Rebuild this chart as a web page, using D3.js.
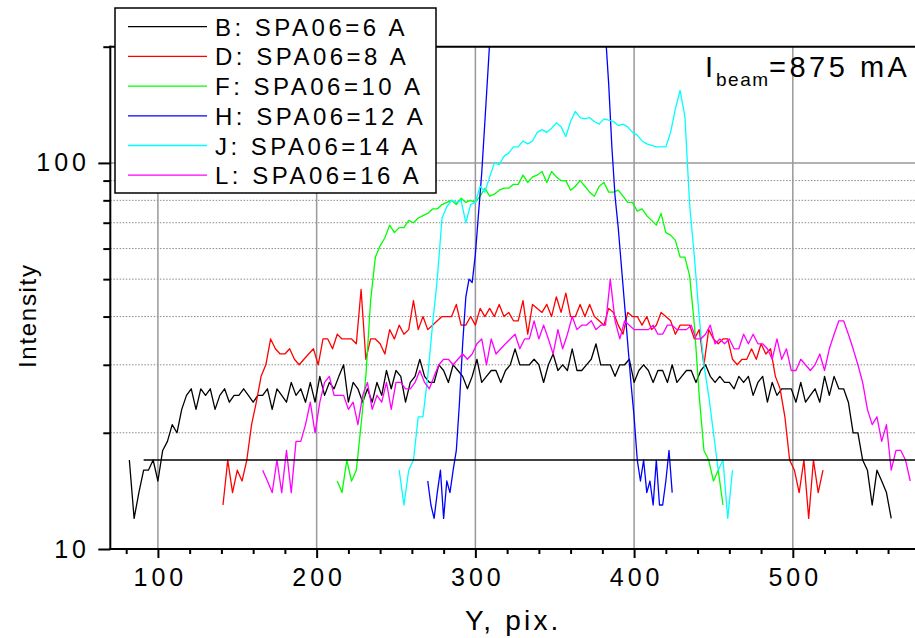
<!DOCTYPE html>
<html><head><meta charset="utf-8">
<script src="https://cdn.jsdelivr.net/npm/d3@7"></script>
<style>
html,body{margin:0;padding:0;background:#fff;}
svg{display:block;}
text{font-family:Arial,"Liberation Sans",sans-serif;fill:#000;}
</style></head><body>
<svg id="chart" width="915" height="638"></svg>
<script>
// ---------- data ----------
const seriesNames  = ["B: SPA06=6 A","D: SPA06=8 A","F: SPA06=10 A","H: SPA06=12 A","J: SPA06=14 A","L: SPA06=16 A"];
const seriesColors = ["#000000","#ff0000","#00ff00","#0000ff","#00ffff","#ff00ff"];
const seriesStart  = [82,141,213,270,252,166];   // first Y, pix. of each profile
const seriesStep   = [3,3,3,2,3,3];              // sampling step in Y, pix.

const valuesB = [17,12,14,16,16,17,15,18,19,21,20,23,25,26,23,26,25,26,23,25,26,24,25,25,26,25,24,25,
  25,26,23,26,25,24,27,25,26,24,27,24,28,25,27,26,28,30,24,27,26,24,26,24,27,25,29,
  26,29,28,24,27,28,31,28,27,27,30,29,27,30,29,28,26,28,31,27,28,29,29,27,29,30,33,30,30,30,
  31,30,27,30,32,29,30,29,33,29,29,30,31,34,30,30,30,28,30,30,31,27,29,30,29,27,29,
  29,27,30,27,28,29,29,27,29,30,28,27,28,27,27,26,28,27,28,25,27,28,24,27,25,26,26,26,24,27,
  24,25,26,24,28,25,28,26,26,24,20,20,17,16,13,16,15,14,12];
const valuesD = [13,17,14,16,15,17,21,24,28,30,35,33,32,32,33,31,30,31,32,33,30,35,35,33,36,35,35,35,34,47,31,35,35,34,32,37,
  35,38,36,37,44,37,40,37,38,39,40,40,40,43,38,38,40,38,42,40,42,40,43,40,41,39,39,44,36,43,
  42,41,43,40,45,41,46,40,40,43,40,43,40,39,38,42,41,38,36,41,40,40,38,40,37,38,
  41,40,39,36,38,38,38,35,37,30,37,35,34,35,35,31,30,31,31,33,31,34,32,33,28,26,22,17,16,14,17,12,17,14,16];
const valuesF = [15,14,17,15,16,21,28,44,57,61,64,69,66,68,68,71,70,72,73,74,76,76,78,79,80,78,81,79,80,79,
  82,86,82,83,85,86,86,88,88,93,89,92,93,95,89,95,92,90,90,85,87,90,87,84,82,87,89,84,84,85,
  82,79,79,75,76,73,71,69,74,66,65,63,57,57,51,38,25,18,17,15,16,13];
const valuesH = [15,13,12,14,16,12,15,14,16,18,24,34,45,50,49,58,74,94,128,175,240,
  255,270,282,290,296,300,305,310,312,315,318,320,322,324,325,326,326,327,327,326,325,324,322,320,318,315,312,308,304,300,295,288,280,265,245,
  215,160,110,82,68,54,43,34,27,22,17,15,17,14,15,13,17,13,13,15,18,14];
const valuesJ = [16,13,16,17,22,22,28,38,50,72,77,80,79,80,70,78,79,87,84,92,100,99,104,106,110,110,114,112,114,120,
  122,120,123,127,124,117,128,136,131,130,131,128,126,130,129,128,125,126,124,120,118,114,112,111,110,110,110,120,138,154,
  132,78,57,40,30,25,20,16,17,12,16];
const valuesL = [16,15,14,17,14,18,14,19,19,21,24,20,24,27,28,25,25,25,23,24,21,25,27,23,25,24,27,23,
  27,27,26,26,27,29,27,26,28,30,31,31,30,31,32,31,32,34,35,30,35,32,33,34,35,36,33,35,35,39,
  35,38,35,32,37,33,36,40,37,38,38,39,37,38,38,50,39,35,39,38,37,37,37,37,38,36,
  36,38,38,37,37,37,38,35,35,36,38,34,35,34,35,33,33,36,34,36,34,34,33,31,35,31,33,29,29,31,
  30,29,30,32,29,33,36,39,39,36,33,30,27,23,21,22,19,21,16,18,18,17,15];
const seriesValues = [valuesB,valuesD,valuesF,valuesH,valuesJ,valuesL];

const xMajorTicks = [100,200,300,400,500];
const xMinorTicks = [80,120,140,160,180,220,240,260,280,320,340,360,380,420,440,460,480,520,540,560];
const yMajorTicks = [10,100];
const yMinorTicks = [20,30,40,50,60,70,80,90,200];
const xDomain = [70,580];
const yDomain = [10,200];
const refLevel = 17, refStart = 91;          // horizontal reference line
const xTitle = "Y, pix.", yTitle = "Intensity";
const beamMain = "I", beamSub = "beam", beamValue = "=875 mA";

// ---------- layout ----------
const L = 110.3, R = 919.8, T = 46.7, B = 549;
const svg = d3.select("#chart");
const x = d3.scaleLinear().domain(xDomain).range([L,R]);
const y = d3.scaleLog().domain(yDomain).range([B,T]);

svg.append("defs").append("clipPath").attr("id","plotclip")
  .append("rect").attr("x",L).attr("y",T).attr("width",R-L).attr("height",B-T);

// grid
const grid = svg.append("g");
grid.selectAll("line.ymin").data(yMinorTicks.filter(d=>d<200)).join("line")
  .attr("x1",L).attr("x2",R).attr("y1",d=>y(d)).attr("y2",d=>y(d))
  .attr("stroke","#8a8a8a").attr("stroke-width",1).attr("stroke-dasharray","1.5,1.6");
grid.selectAll("line.ymaj").data([100]).join("line")
  .attr("x1",L).attr("x2",R).attr("y1",d=>y(d)).attr("y2",d=>y(d))
  .attr("stroke","#999").attr("stroke-width",1.5);
grid.selectAll("line.xmaj").data(xMajorTicks).join("line")
  .attr("x1",d=>x(d)).attr("x2",d=>x(d)).attr("y1",T).attr("y2",B)
  .attr("stroke","#999").attr("stroke-width",1.5);

// series
const line = d3.line().x(d=>x(d[0])).y(d=>y(d[1]));
const plot = svg.append("g").attr("clip-path","url(#plotclip)");
seriesValues.forEach((vals,k)=>{
  const pts = vals.map((v,i)=>[seriesStart[k]+i*seriesStep[k], v]);
  plot.append("path").datum(pts).attr("d",line)
    .attr("fill","none").attr("stroke",seriesColors[k]).attr("stroke-width",1.3)
    .attr("stroke-linejoin","round");
});
plot.append("line").attr("x1",x(refStart)).attr("x2",R).attr("y1",y(refLevel)).attr("y2",y(refLevel))
  .attr("stroke","#000").attr("stroke-width",1.5);

// axes
function styleAxis(g){ g.select(".domain").remove(); g.selectAll(".tick line").attr("stroke","#000").attr("stroke-width",2); }
const xAxisMaj = svg.append("g").attr("transform",`translate(0,${B})`)
  .call(d3.axisBottom(x).tickValues(xMajorTicks).tickSize(9).tickFormat(d3.format("d")));
styleAxis(xAxisMaj);
xAxisMaj.selectAll("text").attr("y",36.7).attr("dy",0).attr("dx",2)
  .style("font-size","25px").style("letter-spacing","4px").style("font-family","Arial, 'Liberation Sans', sans-serif");
const xAxisMin = svg.append("g").attr("transform",`translate(0,${B})`)
  .call(d3.axisBottom(x).tickValues(xMinorTicks).tickSize(5).tickFormat(""));
styleAxis(xAxisMin);

const yAxisMaj = svg.append("g").attr("transform",`translate(${L},0)`)
  .call(d3.axisLeft(y).tickValues(yMajorTicks).tickSize(12).tickFormat(d3.format("d")));
styleAxis(yAxisMaj);
yAxisMaj.selectAll("text").attr("x",-20.3).attr("dy",8)
  .style("font-size","25px").style("letter-spacing","4px").style("font-family","Arial, 'Liberation Sans', sans-serif");
const yAxisMin = svg.append("g").attr("transform",`translate(${L},0)`)
  .call(d3.axisLeft(y).tickValues(yMinorTicks).tickSize(7).tickFormat(""));
styleAxis(yAxisMin);

// frame
svg.append("line").attr("x1",L).attr("x2",L).attr("y1",T-1).attr("y2",B+1).attr("stroke","#000").attr("stroke-width",2);
svg.append("line").attr("x1",L-1).attr("x2",R).attr("y1",B).attr("y2",B).attr("stroke","#000").attr("stroke-width",2);
svg.append("line").attr("x1",L-1).attr("x2",R).attr("y1",T).attr("y2",T).attr("stroke","#000").attr("stroke-width",2);
svg.append("line").attr("x1",R).attr("x2",R).attr("y1",T).attr("y2",B).attr("stroke","#000").attr("stroke-width",2);

// titles
svg.append("text").attr("x",465).attr("y",630).text(xTitle)
  .style("font-size","28px").style("letter-spacing","3.2px");
svg.append("text").attr("transform","translate(36,368) rotate(-90)").text(yTitle)
  .style("font-size","24px").style("letter-spacing","1.7px");

// beam current label
const bt = svg.append("text").style("font-size","29px").style("letter-spacing","3.5px");
bt.append("tspan").attr("x",705).attr("y",77).text(beamMain);
bt.append("tspan").attr("x",716).attr("y",86).style("font-size","19px").style("letter-spacing","1.5px").text(beamSub);
bt.append("tspan").attr("x",769).attr("y",77).text(beamValue);

// legend
const lg = svg.append("g");
lg.append("rect").attr("x",115).attr("y",8).attr("width",321).attr("height",185)
  .attr("fill","#fff").attr("stroke","#000").attr("stroke-width",1.5);
seriesNames.forEach((nm,i)=>{
  const ly = 26.7 + i*29.7;
  lg.append("line").attr("x1",128).attr("x2",207).attr("y1",ly).attr("y2",ly)
    .attr("stroke",seriesColors[i]).attr("stroke-width",1.3);
  lg.append("text").attr("x",215).attr("y",ly+9).text(nm)
    .style("font-size","24px").style("letter-spacing","3.5px");
});
</script></body></html>
